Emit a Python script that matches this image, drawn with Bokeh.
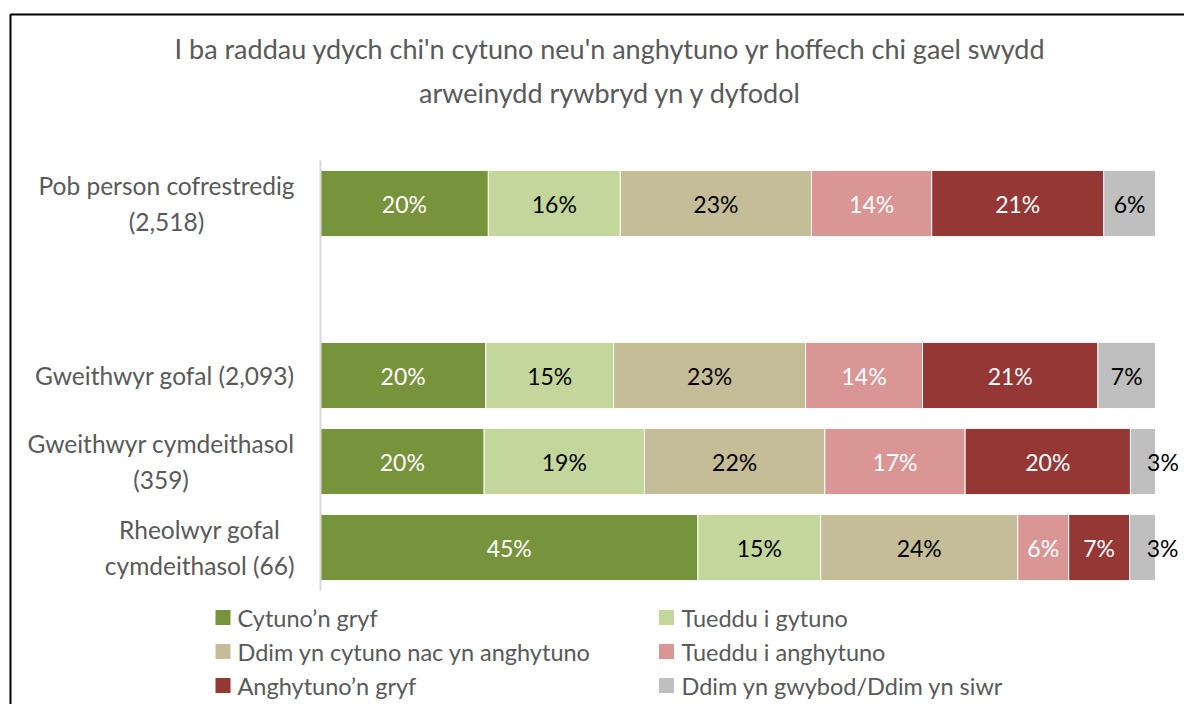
from bokeh.plotting import figure
from bokeh.models import Range1d
from bokeh.core.properties import value
from bokeh.embed import file_html
from bokeh.resources import INLINE

# ---------------- data ----------------
title_text = "I ba raddau ydych chi'n cytuno neu'n anghytuno yr hoffech chi gael swydd\narweinydd rywbryd yn y dyfodol"

categories = [
    "Pob person cofrestredig\n(2,518)",
    "",
    "Gweithwyr gofal (2,093)",
    "Gweithwyr cymdeithasol\n(359)",
    "Rheolwyr gofal\ncymdeithasol (66)",
]

series_names = [
    "Cytuno\u2019n gryf",
    "Tueddu i gytuno",
    "Ddim yn cytuno nac yn anghytuno",
    "Tueddu i anghytuno",
    "Anghytuno\u2019n gryf",
    "Ddim yn gwybod/Ddim yn siwr",
]
series_colors = ["#77933C", "#C3D69B", "#C4BD97", "#D99694", "#953735", "#BFBFBF"]
label_colors = ["white", "black", "black", "white", "white", "black"]

# percentage per row (None = empty row), one list per series
cytuno_gryf = [20.1, None, 19.8, 19.6, 45.2]
tueddu_gytuno = [15.8, None, 15.3, 19.2, 14.7]
ddim_cytuno = [22.9, None, 23.0, 21.6, 23.6]
tueddu_anghytuno = [14.4, None, 14.0, 16.8, 6.1]
anghytuno_gryf = [20.6, None, 21.0, 19.8, 7.3]
ddim_gwybod = [6.2, None, 6.9, 3.0, 3.1]
series_values = [cytuno_gryf, tueddu_gytuno, ddim_cytuno,
                 tueddu_anghytuno, anghytuno_gryf, ddim_gwybod]

# ---------------- layout ----------------
W, H = 1184, 704
PPX = 8.35            # pixels per percent
X0PX = 320            # pixel of 0 %
ROW0PX = 203          # pixel of first row centre
ROWPX = 86            # pixels per category

x_start = -X0PX / PPX
x_end = (W - X0PX) / PPX
y_bottom = (H - ROW0PX) / ROWPX
y_top = -ROW0PX / ROWPX

def dx(px):
    return x_start + px / PPX

def dy(py):
    return (py - ROW0PX) / ROWPX

FONT = "Lato"
GREY = "#595959"

p = figure(width=W, height=H, output_backend="svg", toolbar_location=None,
           x_range=Range1d(x_start, x_end), y_range=Range1d(y_bottom, y_top),
           min_border=0, tools="")
p.axis.visible = False
p.grid.visible = False
p.outline_line_color = None
p.background_fill_color = "white"
p.border_fill_color = "white"

# chart border (left and top visible)
p.line([dx(10), dx(10), dx(W + 20)], [dy(H + 20), dy(14), dy(14)],
       line_color="black", line_width=2)

# title
p.text([dx(610)], [dy(70)], text=[title_text], text_font=value(FONT),
       text_font_size="27px", text_color=GREY, text_align="center",
       text_baseline="middle", text_line_height=1.33)

# bars
n = len(categories)
for s, (vals, col, lcol) in enumerate(zip(series_values, series_colors, label_colors)):
    ys, lefts, rights, labs, offs = [], [], [], [], []
    for i in range(n):
        v = vals[i]
        if v is None:
            continue
        left = sum(series_values[k][i] for k in range(s))
        ys.append(i)
        lefts.append(left)
        rights.append(left + v)
        labs.append(f"{v:.0f}%")
        offs.append(20 if (s == len(series_values) - 1 and v < 4) else 0)
    p.hbar(y=ys, left=lefts, right=rights, height=0.77, fill_color=col,
           line_color="white", line_width=1)
    p.text([(l + r) / 2 for l, r in zip(lefts, rights)], ys, text=labs,
           x_offset=offs, text_font=value(FONT), text_font_size="23px",
           text_color=lcol, text_align="center", text_baseline="middle")

# vertical category axis line
p.segment([0], [-0.5], [0], [n - 0.5], line_color="#D9D9D9", line_width=2)

# category labels
p.text([dx(294)] * n, list(range(n)), text=categories, text_font=value(FONT),
       text_font_size="24.5px", text_color=GREY, anchor="center_right",
       text_align="center", text_baseline="middle", text_line_height=1.25)

# legend (two columns, row-major)
sq_x = [dx(222.5), dx(666)]
tx_x = [dx(237), dx(681)]
for k, (name, col) in enumerate(zip(series_names, series_colors)):
    c, r = k % 2, k // 2
    yy = dy(617 + 34 * r)
    p.scatter([sq_x[c]], [yy], marker="square", size=15, fill_color=col,
              line_color=None)
    p.text([tx_x[c]], [yy], text=[name], text_font=value(FONT),
           text_font_size="23.5px", text_color=GREY, text_align="left",
           text_baseline="middle")

open("out.html", "w").write(file_html(p, INLINE))
